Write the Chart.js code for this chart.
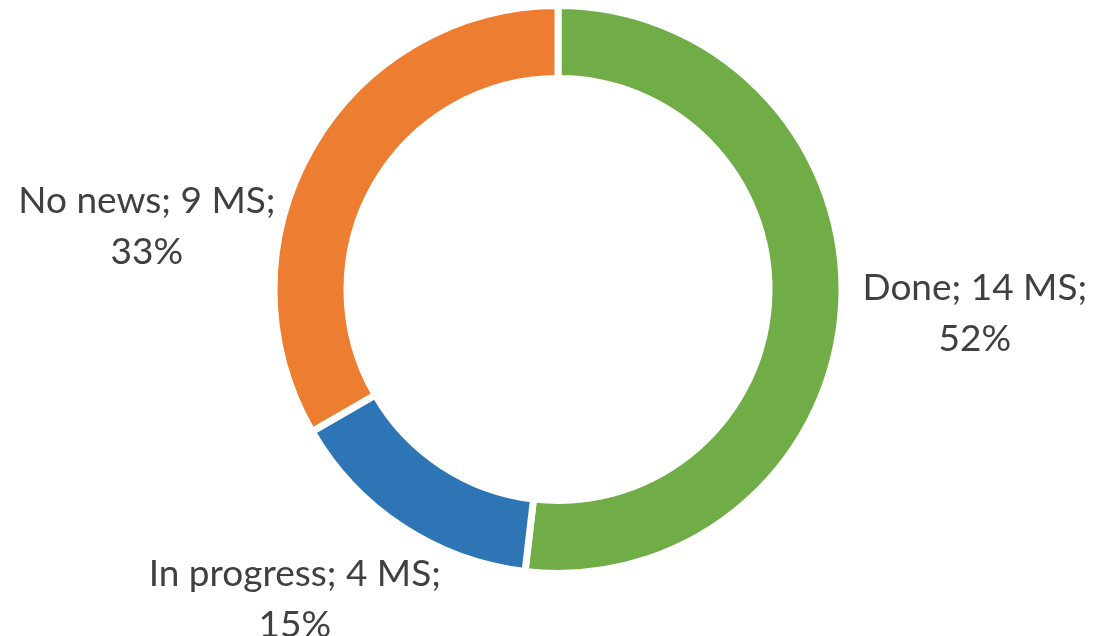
<!DOCTYPE html>
<html lang="en">
<head>
  <meta charset="UTF-8" />
  <title>Milestone status</title>
  <script src="https://cdn.jsdelivr.net/npm/chart.js"></script>
  <style>
    html, body {
      margin: 0;
      padding: 0;
      background: #fff;
    }
    #wrap {
      width: 1094px;
      height: 636px;
      overflow: hidden;
    }
  </style>
</head>
<body>
  <div id="wrap">
    <canvas id="statusChart" width="1094" height="636"></canvas>
  </div>

  <script>
    const categories = ['Done', 'In progress', 'No news'];
    const milestones = [14, 4, 9];
    const sliceColors = ['#70AD47', '#2E75B6', '#ED7D31'];

    // Excel's "best fit" moves labels a bit off the slice middle; nudge per label (degrees, radius factor)
    const labelNudge = [
      { turn: -0.2, dist: 1.470 },
      { turn: 7.1, dist: 1.429 },
      { turn: -21.15, dist: 1.465 }
    ];

    const total = milestones.reduce((a, b) => a + b, 0);

    const sliceLabels = {
      id: 'sliceLabels',
      afterDatasetsDraw(chart) {
        const ctx = chart.ctx;
        const arcs = chart.getDatasetMeta(0).data;
        ctx.save();
        ctx.font = '37px Lato, "Noto Sans", sans-serif';
        ctx.fillStyle = '#404040';
        ctx.textAlign = 'center';
        ctx.textBaseline = 'alphabetic';
        arcs.forEach((arc, i) => {
          const p = arc.getProps(['x', 'y', 'startAngle', 'endAngle', 'outerRadius']);
          const a = (p.startAngle + p.endAngle) / 2 + labelNudge[i].turn * Math.PI / 180;
          const d = p.outerRadius * labelNudge[i].dist;
          const cx = p.x + Math.cos(a) * d;
          const cy = p.y + Math.sin(a) * d;
          const pct = Math.round(milestones[i] / total * 100) + '%';
          ctx.fillText(categories[i] + '; ' + milestones[i] + ' MS;', cx, cy - 12);
          ctx.fillText(pct, cx, cy + 39);
        });
        ctx.restore();
      }
    };

    new Chart(document.getElementById('statusChart'), {
      type: 'doughnut',
      data: {
        labels: categories,
        datasets: [{
          data: milestones,
          backgroundColor: sliceColors,
          borderColor: '#ffffff',
          borderWidth: 7,
          hoverOffset: 0
        }]
      },
      options: {
        responsive: false,
        animation: false,
        radius: 284,
        cutout: '74.3%',
        layout: {
          padding: { left: 22, right: 0, top: 0, bottom: 57 }
        },
        plugins: {
          legend: { display: false },
          tooltip: { enabled: false }
        }
      },
      plugins: [sliceLabels]
    });
  </script>
</body>
</html>
